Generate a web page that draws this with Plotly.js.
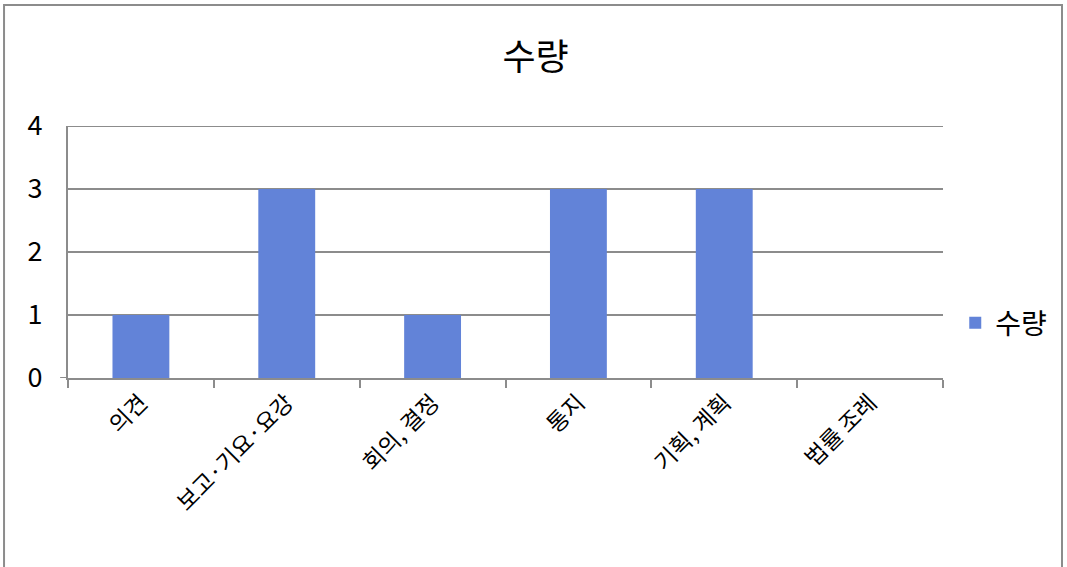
<!DOCTYPE html>
<html>
<head>
<meta charset="utf-8">
<script src="https://cdn.plot.ly/plotly-3.0.1.min.js"></script>
<style>html,body{margin:0;padding:0;background:#fff;}#chart{width:1067px;height:567px;}</style>
</head>
<body>
<div id="chart"></div>
<script>
const categories = ["의견", "보고·기요·요강", "회의, 결정", "통지", "기획, 계획", "법률 조례"];
const values = [1, 3, 1, 3, 3, 0];
const seriesName = "수량";
const chartTitle = "수량";
const yTicks = [0, 1, 2, 3, 4];

const FONT = "'Noto Sans CJK KR', 'Noto Sans', sans-serif";
const trace = {
  type: "bar",
  x: categories,
  y: values,
  name: seriesName,
  marker: {color: "#6283D8"},
  showlegend: true
};
const layout = {
  width: 1067, height: 567,
  margin: {l: 68, r: 124, t: 126, b: 189, autoexpand: false},
  paper_bgcolor: "#fff", plot_bgcolor: "#fff",
  font: {family: FONT, color: "#000"},
  title: {text: chartTitle, x: 0.502, xanchor: "center", y: 0.898, yanchor: "middle", font: {size: 36, family: FONT, color: "#000"}},
  bargap: 0.61,
  xaxis: {
    type: "category",
    tickangle: -45,
    tickfont: {size: 23, family: FONT, color: "#000"},
    showline: true, linecolor: "#8c8c8c", linewidth: 2,
    ticks: "outside", tickson: "boundaries", ticklen: 8, tickcolor: "#8c8c8c", tickwidth: 2,
    showgrid: false, zeroline: false, fixedrange: true
  },
  yaxis: {
    range: [0, 4],
    tickvals: yTicks,
    tickfont: {size: 27, family: FONT, color: "#000"},
    showline: true, linecolor: "#8c8c8c", linewidth: 2,
    showgrid: true, gridcolor: "#8c8c8c", gridwidth: 2,
    zeroline: false, ticks: "", ticklabelstandoff: 18, fixedrange: true
  },
  legend: {x: 1.014, xanchor: "left", y: 0.218, yanchor: "middle", font: {size: 28, family: FONT, color: "#000"}, bgcolor: "rgba(0,0,0,0)", itemwidth: 30},
  shapes: [
    {type: "rect", xref: "paper", yref: "paper", x0: -0.0731, x1: 1.136, y0: -1.2, y1: 1.48, line: {color: "#8c8c8c", width: 2}, fillcolor: "rgba(0,0,0,0)", layer: "below"},
    {type: "line", xref: "paper", yref: "y", x0: -0.009, x1: 0, y0: 0, y1: 0, line: {color: "#8c8c8c", width: 2}},
    {type: "line", xref: "paper", yref: "y", x0: 0, x1: 1, y0: yTicks[yTicks.length - 1], y1: yTicks[yTicks.length - 1], line: {color: "#8c8c8c", width: 2}}
  ]
};
Plotly.newPlot("chart", [trace], layout, {displayModeBar: false, staticPlot: true});
</script>
</body>
</html>
